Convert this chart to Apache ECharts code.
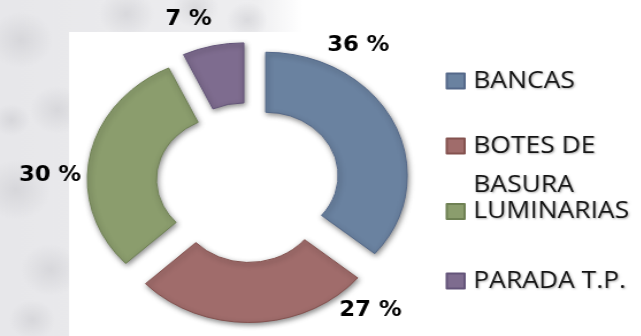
<!DOCTYPE html>
<html>
<head>
<meta charset="utf-8">
<script src="https://cdn.jsdelivr.net/npm/echarts@6/dist/echarts.min.js"></script>
<style>
  html, body { margin: 0; padding: 0; background: #fff; overflow: hidden; }
  #wrap { width: 641px; height: 336px; overflow: hidden; }
  /* the whole drawing is widened a little, giving the oval doughnut */
  #chart { width: 558px; height: 336px; transform: scaleX(1.15); transform-origin: 0 0; }
</style>
</head>
<body>
<div id="wrap"><div id="chart"></div></div>
<script>
// Distribución del mobiliario urbano (%)
const categories = ['BANCAS', 'BOTES DE BASURA', 'LUMINARIAS', 'PARADA T.P.'];
const shares = [36, 27, 30, 7];

const palette = ['#6a82a0', '#a06c6b', '#8b9d6d', '#7e6c8f'];
const edges = ['#55698a', '#84524f', '#6f8154', '#64557a'];

const chart = echarts.init(document.getElementById('chart'), null, { renderer: 'canvas' });

// soft grey blotches of the stone backdrop
const blotches = [
  [18, 40, 28], [50, 110, 24], [14, 190, 30], [44, 270, 26], [28, 320, 20],
  [110, 14, 24], [170, 8, 20], [82, 60, 16], [215, 20, 18], [10, 120, 16]
].map(([x, y, r]) => ({
  type: 'circle', z: -9, silent: true,
  shape: { cx: x, cy: y, r: r },
  style: {
    fill: new echarts.graphic.RadialGradient(0.5, 0.5, 0.5, [
      { offset: 0, color: 'rgba(195,195,200,0.45)' },
      { offset: 1, color: 'rgba(195,195,200,0)' }
    ])
  }
}));

// one vertical legend entry per row, so every row sits at its own height
const legendText = {
  fontFamily: 'Open Sans',
  fontSize: 23,
  color: '#141414',
  lineHeight: 39,
  padding: [0, 0, 0, 2.5],
  textShadowColor: 'rgba(0,0,0,0.3)',
  textShadowBlur: 2,
  textShadowOffsetX: 1,
  textShadowOffsetY: 1
};
const legendRowTop = [56.5, 82.5, 187, 256.5];
const legends = categories.map((name, i) => ({
  orient: 'vertical',
  left: 382.5,
  top: legendRowTop[i],
  itemWidth: 15.5,
  itemHeight: 15,
  icon: 'rect',
  selectedMode: false,
  textStyle: legendText,
  formatter: i === 1 ? '\nBOTES DE\nBASURA' : '{name}',
  data: [name]
}));

const option = {
  animation: false,
  backgroundColor: '#ffffff',
  graphic: [
    {
      type: 'rect', z: -10, silent: true,
      shape: { x: 0, y: 0, width: 558, height: 336 },
      style: {
        fill: new echarts.graphic.LinearGradient(0, 0, 1, 0, [
          { offset: 0, color: '#e7e7ea' },
          { offset: 0.40, color: '#eeeef0' },
          { offset: 0.47, color: '#ffffff' },
          { offset: 1, color: '#ffffff' }
        ])
      }
    },
    ...blotches,
    {
      type: 'rect', z: -8, silent: true,
      shape: { x: 60, y: 32, width: 510, height: 310 },
      style: { fill: '#ffffff' }
    }
  ],
  legend: legends,
  series: [{
    type: 'pie',
    center: [215.7, 182.5],
    radius: [63, 123],
    startAngle: 90,
    clockwise: true,
    selectedMode: 'multiple',
    selectedOffset: 17,
    avoidLabelOverlap: false,
    emphasis: { disabled: true },
    label: {
      show: true,
      position: 'outside',
      formatter: '{c} %',
      fontFamily: '"DejaVu Sans Condensed", Roboto, sans-serif',
      fontWeight: 'bold',
      fontSize: 22,
      color: '#000',
      distanceToLabelLine: 0
    },
    labelLine: { show: false, length: 0, length2: 0 },
    labelLayout: function (p) {
      const shift = [[-58, -78], [75, -12], [-7.5, 19], [-1, -27]][p.dataIndex];
      return { dx: shift[0], dy: shift[1] };
    },
    itemStyle: {
      shadowBlur: 5,
      shadowColor: 'rgba(0,0,0,0.45)',
      shadowOffsetX: 1,
      shadowOffsetY: 2
    },
    data: categories.map((name, i) => ({
      name: name,
      value: shares[i],
      selected: true,
      itemStyle: { color: palette[i], borderColor: edges[i], borderWidth: 1 }
    }))
  }]
};

chart.setOption(option);
</script>
</body>
</html>
